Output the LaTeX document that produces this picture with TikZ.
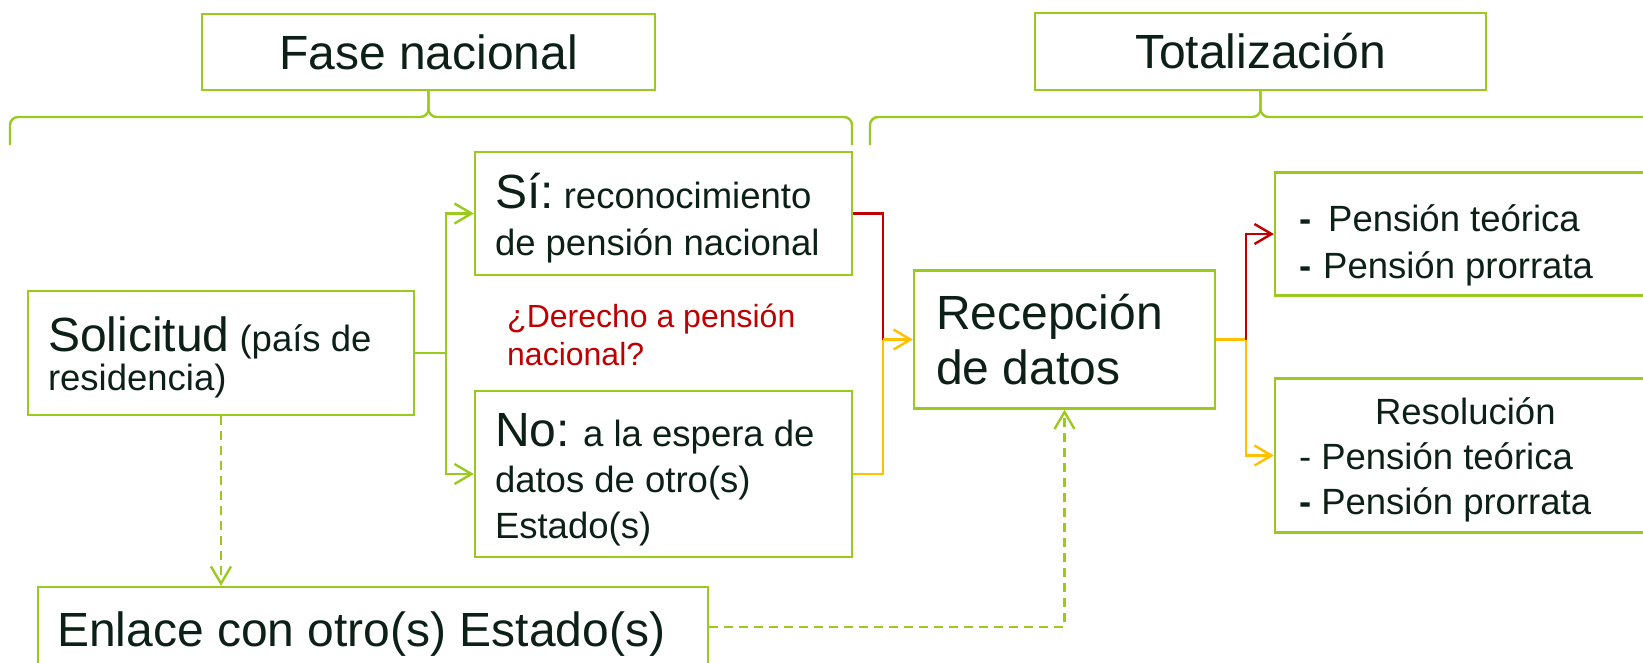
\documentclass[tikz,border=0pt]{standalone}
\usepackage{fontspec}
\setmainfont{Liberation Sans}
\usetikzlibrary{arrows.meta,calc}

\definecolor{leafgreen}{RGB}{155,202,30}
\definecolor{darkred}{RGB}{192,0,0}
\definecolor{amber}{RGB}{255,192,0}
\definecolor{ink}{RGB}{12,32,24}

\newcommand\bigtxt{\fontsize{48}{55}\selectfont}
\newcommand\lift[1]{\rule{0pt}{#1pt}}

\tikzset{
  box/.style={draw=leafgreen, line width=2.3pt, text=ink, inner ysep=0pt, align=flush left},
  title/.style={box, align=center, font=\bigtxt},
  bracket/.style={leafgreen, line width=2.4pt, rounded corners=8pt},
  wire/.style={line width=2.4pt},
  link/.style={wire, -{Straight Barb[length=17pt,width=20pt]}},
  dashlink/.style={link, leafgreen, dash pattern=on 9pt off 6pt},
}

\begin{document}
\begin{tikzpicture}[x=1pt,y=-1pt]
\clip (0,0) rectangle (1643,662);

% headings and braces
\node[title, minimum width=453pt, minimum height=76pt] (fase) at (428.5,52) {Fase nacional};
\node[title, minimum width=451pt, minimum height=77pt] (total) at (1260.5,51.5) {Totalización};
\draw[bracket] (10,145) -- (10,117) -| (fase.south);
\draw[bracket] (fase.south) |- (852,117) -- (852,145);
\draw[bracket] (870,145) -- (870,117) -| (total.south);
\draw[bracket] (total.south) |- (1652,117) -- (1652,145);

% fase nacional
\node[box, minimum width=386pt, minimum height=124pt, inner xsep=20pt, text width=346pt,
  font=\fontsize{36.5}{39}\selectfont] (sol) at (221,353) {\lift{43}{\bigtxt Solicitud} (país de\\residencia)};
\node[box, minimum width=377pt, minimum height=123pt, inner xsep=20pt, text width=337pt,
  font=\fontsize{36.5}{47}\selectfont] (si) at (663.5,213.5) {\lift{44}{\bigtxt Sí:}\ reconocimiento\\de pensión nacional};
\node[box, minimum width=377pt, minimum height=166pt, inner xsep=20pt, text width=337pt,
  font=\fontsize{36.5}{46}\selectfont] (no) at (663.5,474) {\lift{45}{\bigtxt No:} a la espera de\\datos de otro(s)\\Estado(s)};
\node[text=darkred, font=\fontsize{32}{38.5}\selectfont, align=flush left, inner sep=0pt, anchor=west]
  (quest) at (507,335) {¿Derecho a pensión\\nacional?};
\node[box, minimum width=670pt, minimum height=80pt, inner xsep=19pt, text width=632pt,
  text height=49pt, text depth=10pt, font=\bigtxt] (enl) at (373,627) {Enlace con otro(s) Estado(s)};

% totalizacion
\node[box, minimum width=301pt, minimum height=138pt, inner xsep=22pt, text width=257pt,
  font=\bigtxt] (rec) at (1064.5,339.5) {Recepción\\de datos};
\node[box, minimum width=426pt, minimum height=123pt, inner xsep=24pt, text width=378pt,
  font=\fontsize{36.5}{47}\selectfont] (pen) at (1488,234) {\lift{49}\textbf{-}\hspace{17pt}Pensión teórica\\\textbf{-}\hspace{12pt}Pensión prorrata};
\node[box, minimum width=426pt, minimum height=154pt, inner xsep=24pt, text width=378pt,
  font=\fontsize{36.5}{45}\selectfont] (res) at (1488,455.5) {\lift{36}\hspace*{76pt}Resolución\\- Pensión teórica\\\textbf{-} Pensión prorrata};

% connectors
\coordinate (split) at ($(sol.east)+(31,0)$);
\draw[wire, leafgreen] (sol.east) -- (split);
\draw[link, leafgreen] (split) |- (si.west);
\draw[link, leafgreen] (split) |- (no.west);
\coordinate (merge) at ($(rec.west)+(-30,0)$);
\draw[wire, darkred] (si.east) -| (merge);
\draw[wire, amber] (no.east) -| (merge);
\draw[link, amber] (merge) -- (rec.west);
\coordinate (fork) at ($(rec.east)+(30,0)$);
\draw[wire, amber] (rec.east) -- (fork);
\draw[link, darkred] (fork) |- (pen.west);
\draw[link, amber] (fork) |- (res.west);
\draw[dashlink] (sol.south) -- (sol.south |- enl.north);
\draw[dashlink] (enl.east) -| (rec.south);
\end{tikzpicture}
\end{document}
